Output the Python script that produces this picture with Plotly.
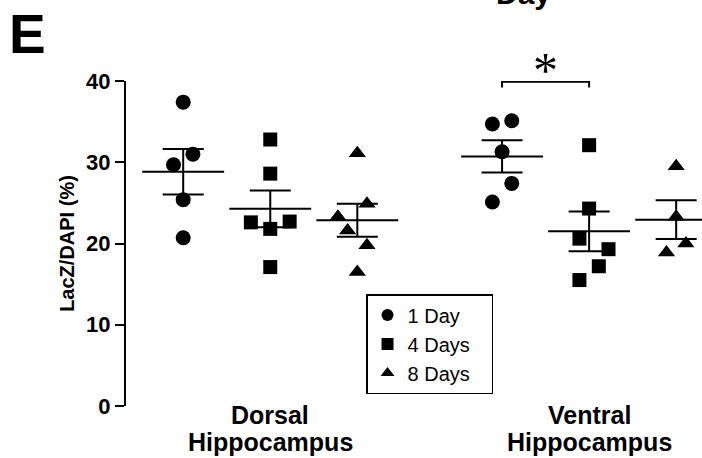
import numpy as np
import plotly.graph_objects as go

# ---------------- data ----------------
region_lines = [["Dorsal", "Hippocampus"], ["Ventral", "Hippocampus"]]
series_names = ["1 Day", "4 Days", "8 Days"]

dorsal_1day = [37.4, 31.0, 29.7, 25.4, 20.7]
dorsal_4days = [32.8, 28.6, 22.6, 22.7, 21.8, 17.1]
dorsal_8days = [31.1, 24.9, 23.3, 21.6, 19.8, 16.5]
ventral_1day = [34.7, 35.1, 31.3, 27.4, 25.1]
ventral_4days = [32.1, 24.3, 20.6, 19.3, 17.2, 15.5]
ventral_8days = [29.5, 23.3, 20.0, 18.9]

y_ticks = [0, 10, 20, 30, 40]
y_title = "LacZ/DAPI (%)"

# ---------------- layout / style ----------------
# horizontal scatter spread of points (beeswarm-like), in marker half-spacings
jitter = {
    ("Dorsal", "1 Day"): [0, 1, -1, 0, 0],
    ("Dorsal", "4 Days"): [0, 0, -2, 2, 0, 0],
    ("Dorsal", "8 Days"): [0, 1, -2, -1, 1, 0],
    ("Ventral", "1 Day"): [-1, 1, 0, 1, -1],
    ("Ventral", "4 Days"): [0, 0, -1, 2, 1, -1],
    ("Ventral", "8 Days"): [0, 0, 1, -1],
}
data = {
    ("Dorsal", "1 Day"): dorsal_1day,
    ("Dorsal", "4 Days"): dorsal_4days,
    ("Dorsal", "8 Days"): dorsal_8days,
    ("Ventral", "1 Day"): ventral_1day,
    ("Ventral", "4 Days"): ventral_4days,
    ("Ventral", "8 Days"): ventral_8days,
}
region_keys = ["Dorsal", "Ventral"]
region_pos = [1, 2]
group_offset = 0.273
jitter_step = 0.0304
symbols = {"1 Day": "circle", "4 Days": "square", "8 Days": "triangle-up"}
sizes = {"1 Day": 15, "4 Days": 14, "8 Days": 15}
FONT = "Liberation Sans, Arial, sans-serif"
NBSP = "\u00a0"

fig = go.Figure()

def gx(ri, si):
    return region_pos[ri] + (si - 1) * group_offset

for si, s in enumerate(series_names):
    xs, ys = [], []
    for ri, r in enumerate(region_keys):
        vals = data[(r, s)]
        js = jitter[(r, s)]
        for v, j in zip(vals, js):
            xs.append(gx(ri, si) + j * jitter_step)
            ys.append(v)
    fig.add_trace(go.Scatter(
        x=xs, y=ys, mode="markers", name=s + NBSP * 3,
        marker=dict(symbol=symbols[s], size=sizes[s], color="black",
                    line=dict(width=0)),
        cliponaxis=False,
    ))

# mean +/- SEM
for si, s in enumerate(series_names):
    for ri, r in enumerate(region_keys):
        vals = np.array(data[(r, s)])
        m = vals.mean()
        sem = vals.std(ddof=1) / np.sqrt(len(vals))
        fig.add_trace(go.Scatter(
            x=[gx(ri, si)], y=[m], mode="markers", showlegend=False,
            marker=dict(symbol="line-ew-open", size=58.5,
                        line=dict(width=2, color="black"), color="black"),
            error_y=dict(type="data", array=[sem], visible=True,
                         width=20.5, thickness=2, color="black"),
            hoverinfo="skip",
        ))

# significance bracket between Ventral 1 Day and Ventral 4 Days
x1, x2 = gx(1, 0), gx(1, 1)
fig.add_shape(type="path",
              path=f"M {x1},39.2 L {x1},39.9 L {x2},39.9 L {x2},39.2",
              xref="x", yref="y", line=dict(color="black", width=2))
fig.add_annotation(x=(x1 + x2) / 2, y=1.035, xref="x", yref="paper", text="*",
                   showarrow=False, font=dict(family="Liberation Serif", size=50, color="black"),
                   yanchor="middle")

# category labels (two lines, tight spacing) under each region
for ri, lines in enumerate(region_lines):
    for li, (txt, yp) in enumerate(zip(lines, [-0.027, -0.1093])):
        fig.add_annotation(x=region_pos[ri], y=yp, xref="x", yref="paper",
                           text=f"<b>{txt}</b>", showarrow=False,
                           xanchor="center", yanchor="middle",
                           font=dict(family=FONT, size=25, color="black"))

# panel letter and cropped title
fig.add_annotation(x=-0.206, y=1.146, xref="paper", yref="paper", text="<b>E</b>",
                   showarrow=False, xanchor="left", yanchor="middle",
                   font=dict(family=FONT, size=55, color="black"))
fig.add_annotation(x=0.69, y=1.27, xref="paper", yref="paper", text="<b>Day</b>",
                   showarrow=False, xanchor="center", yanchor="middle",
                   font=dict(family=FONT, size=30, color="black"))

x_range = [0.5476, 2.354]
fig.update_layout(
    width=702, height=458,
    margin=dict(l=126, r=0, t=81, b=52),
    paper_bgcolor="white", plot_bgcolor="white",
    font=dict(family=FONT, color="black"),
    xaxis=dict(range=x_range, tickvals=region_pos, showticklabels=False,
               showline=False, showgrid=False, zeroline=False, ticks="",
               automargin=False),
    yaxis=dict(range=[0, 40], tickvals=y_ticks, showline=True, linewidth=2,
               linecolor="black", ticks="outside", ticklen=9, tickwidth=2,
               tickcolor="black", showgrid=False, zeroline=False,
               automargin=False,
               tickfont=dict(size=22, weight="bold", color="black"),
               title=dict(text=y_title, font=dict(size=20, weight="bold"), standoff=6)),
    legend=dict(x=0.4167, y=0.3446, xanchor="left", yanchor="top",
                bordercolor="black", borderwidth=1.5, bgcolor="white",
                font=dict(size=20, color="black"), itemsizing="constant",
                tracegroupgap=0),
    showlegend=True,
)

fig.write_html("out.html", config={"displayModeBar": False},
               post_script="document.body.style.margin='0';document.body.style.overflow='hidden';")
